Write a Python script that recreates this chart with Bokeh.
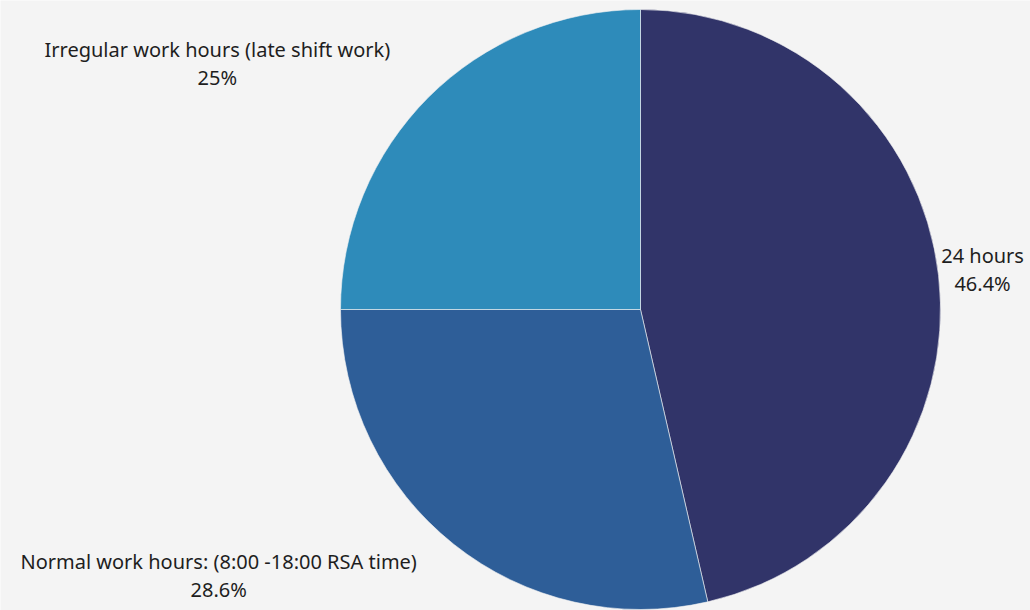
import math
from bokeh.plotting import figure
from bokeh.models import ColumnDataSource, Range1d
from bokeh.core.properties import value
from bokeh.embed import file_html
from bokeh.resources import INLINE

categories = ["24 hours", "Normal work hours: (8:00 -18:00 RSA time)", "Irregular work hours (late shift work)"]
percents = [46.4, 28.6, 25.0]
pct_labels = ["46.4%", "28.6%", "25%"]
colors = ["#313469", "#2e5e98", "#2e8bba"]

W, H = 1030, 610
cx, cy, R = 640, H - 309, 300

total = sum(percents)
starts, ends, mids = [], [], []
acc = 0.0
for v in percents:
    a0 = math.pi / 2 - 2 * math.pi * acc / total
    acc += v
    a1 = math.pi / 2 - 2 * math.pi * acc / total
    starts.append(a1)
    ends.append(a0)
    mids.append((a0 + a1) / 2)

p = figure(width=W, height=H, output_backend="svg", toolbar_location=None,
           x_range=Range1d(0, W), y_range=Range1d(0, H), min_border=0)
p.axis.visible = False
p.grid.visible = False
p.outline_line_color = None
p.background_fill_color = "#f4f4f4"
p.border_fill_color = "#f4f4f4"

src = ColumnDataSource(dict(x=[cx] * 3, y=[cy] * 3, start=starts, end=ends, color=colors))
p.wedge(x="x", y="y", radius=R, radius_units="screen", start_angle="start", end_angle="end",
        fill_color="color", line_color="#f4f4f4", line_width=0.6, source=src)

lx, ly = [], []
shift_x = [44, -235, -211]
shift_y = [6, -31, 34]
for i, m in enumerate(mids):
    ax = cx + R * math.cos(m)
    ay = cy + R * math.sin(m)
    lx.append(ax + shift_x[i])
    ly.append(ay + shift_y[i])
lsrc = ColumnDataSource(dict(x=lx, y=ly, name=categories, pct=pct_labels))
p.text(x="x", y="y", text="name", source=lsrc, text_align="center", text_baseline="middle",
       text_font=value("Noto Sans"), text_font_size="20px", text_color="#1e1e1e", y_offset=-14)
p.text(x="x", y="y", text="pct", source=lsrc, text_align="center", text_baseline="middle",
       text_font=value("Noto Sans"), text_font_size="20px", text_color="#1e1e1e", y_offset=14)

open("out.html", "w").write(file_html(p, INLINE))
